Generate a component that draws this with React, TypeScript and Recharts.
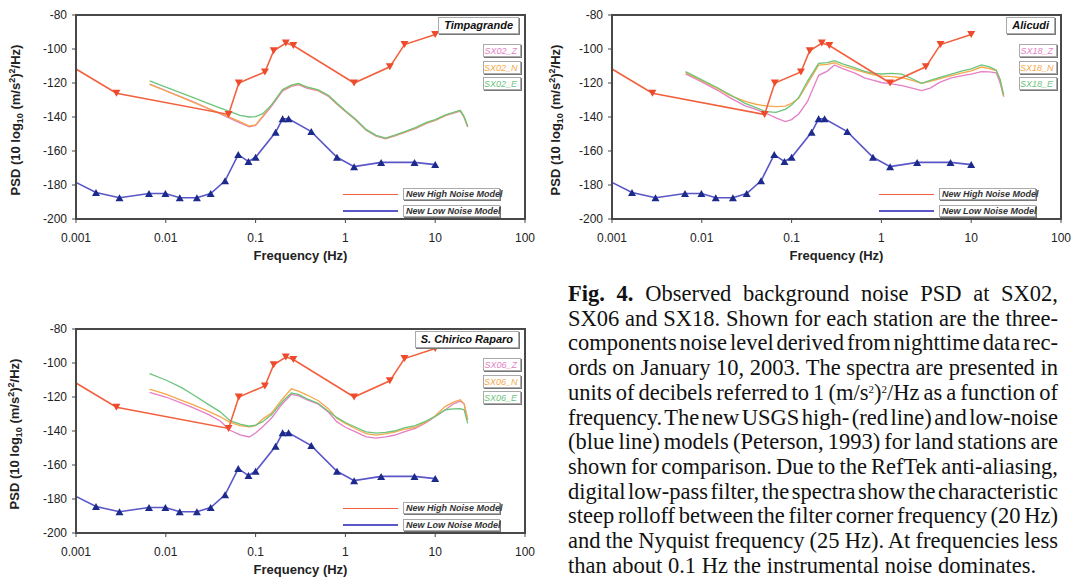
import React from 'react';
import { LineChart, Line, XAxis, YAxis } from 'recharts';

// axis ticks
const freqTicks = [0.001, 0.01, 0.1, 1, 10, 100];
const psdTicks = [-200, -180, -160, -140, -120, -100, -80];

// Peterson (1993) New High Noise Model, frequency (Hz) / PSD (dB)
const nhnmFreq = [0.001, 0.00282, 0.05, 0.065, 0.127, 0.159, 0.217, 0.263, 1.25, 3.125, 4.55, 10];
const nhnmPsd = [-111.8, -126.0, -138.5, -120.0, -113.5, -101.0, -96.5, -98.0, -120.0, -110.5, -97.4, -91.5];

// Peterson (1993) New Low Noise Model
const nlnmFreq = [0.001, 0.00167, 0.00305, 0.0065, 0.0099, 0.0143, 0.0222, 0.0316, 0.0457, 0.0641, 0.0833, 0.1, 0.167, 0.2, 0.233, 0.417, 0.806, 1.25, 2.5, 5.88, 10];
const nlnmPsd = [-178.5, -184.4, -187.5, -185.0, -185.0, -187.5, -187.5, -185.0, -177.5, -162.1, -166.2, -163.7, -149.0, -141.1, -141.1, -148.6, -163.7, -169.2, -166.7, -166.7, -168.0];

// frequencies at which the station spectra were read
const specFreq = [0.0066, 0.01, 0.015, 0.02, 0.03, 0.04, 0.052, 0.067, 0.085, 0.1, 0.12, 0.15, 0.2, 0.25, 0.3, 0.37, 0.5, 0.65, 0.8, 1.0, 1.3, 1.7, 2.2, 2.8, 3.5, 4.5, 6, 8, 10, 13, 16, 19, 21, 23];

// Timpagrande (SX02)
const sx02Z = [-120.6, -124.4, -128.3, -131.0, -135.2, -138.0, -140.8, -143.5, -145.8, -145.0, -140.0, -133.8, -124.6, -122.0, -121.0, -123.0, -124.6, -127.9, -132.4, -136.8, -141.8, -147.8, -151.3, -152.8, -151.2, -149.2, -146.8, -143.8, -142.0, -139.2, -137.7, -136.5, -140.2, -145.9];
const sx02N = [-120.8, -124.7, -128.5, -131.2, -135.0, -137.7, -140.2, -142.7, -145.3, -144.7, -139.5, -133.0, -124.0, -121.5, -120.5, -122.5, -124.3, -127.5, -132.0, -136.5, -141.5, -147.5, -151.0, -152.6, -151.0, -149.0, -146.5, -143.5, -141.8, -139.0, -137.5, -136.3, -140.0, -145.7];
const sx02E = [-118.8, -122.4, -126.0, -128.5, -132.1, -134.6, -136.9, -139.0, -140.0, -139.8, -138.0, -133.0, -123.8, -121.3, -120.3, -122.3, -124.1, -127.3, -131.8, -136.3, -141.3, -147.3, -150.8, -152.4, -150.8, -148.7, -146.2, -143.2, -141.5, -138.8, -137.3, -136.1, -139.8, -145.5];

// Alicudi (SX18)
const sx18Z = [-114.6, -119.3, -124.3, -128.3, -133.3, -135.5, -137.8, -140.5, -142.7, -141.5, -138.2, -131.0, -115.5, -113.0, -109.4, -111.5, -114.0, -117.0, -118.3, -119.7, -120.5, -121.5, -123.0, -124.5, -123.0, -119.5, -117.0, -115.7, -114.8, -113.3, -113.5, -114.0, -120.0, -128.0];
const sx18N = [-113.9, -118.7, -123.4, -127.0, -130.7, -132.5, -133.5, -133.9, -133.6, -132.0, -129.0, -120.5, -109.5, -109.0, -108.1, -110.0, -112.0, -113.8, -115.0, -115.9, -116.3, -116.9, -118.5, -120.2, -119.0, -117.4, -115.6, -114.0, -112.8, -110.6, -111.5, -112.7, -118.0, -128.0];
const sx18E = [-113.3, -118.2, -122.8, -126.5, -131.8, -134.5, -136.9, -137.3, -135.5, -133.0, -128.5, -119.0, -108.5, -108.0, -106.9, -108.8, -111.0, -113.2, -114.2, -114.7, -114.3, -114.8, -117.5, -120.2, -118.5, -116.7, -114.8, -112.9, -111.7, -109.4, -110.5, -112.5, -118.0, -127.0];

// S. Chirico Raparo (SX06)
const sx06Z = [-117.3, -120.0, -123.6, -126.3, -130.4, -134.0, -139.6, -142.3, -143.5, -141.2, -137.5, -132.5, -123.8, -118.5, -119.2, -121.6, -124.2, -129.0, -134.5, -137.8, -140.5, -143.5, -144.2, -143.4, -142.5, -140.5, -138.5, -135.0, -131.5, -127.5, -124.0, -122.5, -124.0, -133.5];
const sx06N = [-115.3, -118.3, -122.0, -124.5, -128.5, -131.5, -134.9, -136.8, -137.5, -136.8, -133.0, -129.5, -121.0, -115.2, -116.5, -118.7, -122.2, -127.0, -132.5, -135.5, -138.7, -141.5, -142.4, -141.7, -140.6, -139.0, -137.8, -134.5, -131.0, -125.5, -123.0, -121.6, -124.0, -133.5];
const sx06E = [-106.3, -110.0, -114.5, -118.5, -124.5, -128.6, -133.9, -136.0, -137.2, -136.5, -134.5, -130.5, -122.5, -117.6, -118.5, -121.0, -123.8, -128.5, -132.0, -135.0, -137.8, -140.5, -141.3, -140.8, -140.0, -138.1, -136.8, -134.0, -131.5, -127.5, -127.0, -126.9, -127.5, -135.5];

const HNM_LINE = '#f2603e';
const HNM_MARK = '#ee4a2c';
const LNM_LINE = '#5a56c8';
const LNM_MARK = '#1c2a8c';
const Z_COL = '#e47fc4';
const N_COL = '#f6a84a';
const E_COL = '#6cc47c';
const AXIS = '#484848';
const SANS = '"Liberation Sans", Arial, sans-serif';

const pts = (fs: number[], vs: number[]) => fs.map((f, i) => ({ f, v: vs[i] }));

const DownTri = (p: any) => {
  const { cx, cy, index } = p;
  if (index === 0 || cx == null) return <g key={`h${index}`} />;
  return <path key={`h${index}`} d={`M${cx - 4},${cy - 3.5}L${cx + 4},${cy - 3.5}L${cx},${cy + 3.5}Z`} fill={HNM_MARK} />;
};

const UpTri = (p: any) => {
  const { cx, cy, index } = p;
  if (index === 0 || cx == null) return <g key={`l${index}`} />;
  return <path key={`l${index}`} d={`M${cx - 4},${cy + 3.5}L${cx + 4},${cy + 3.5}L${cx},${cy - 3.5}Z`} fill={LNM_MARK} />;
};

const boxStyle: React.CSSProperties = {
  position: 'absolute',
  background: '#fff',
  border: '1px solid #aaa',
  boxShadow: '1px 1px 0 #777',
  fontFamily: SANS,
  fontStyle: 'italic',
  whiteSpace: 'nowrap',
  boxSizing: 'border-box',
};

const tickFont = { fontSize: 12, fill: '#222', fontFamily: SANS };

interface PanelProps {
  left: number;
  top: number;
  width: number;
  height: number;
  plotLeft: number;
  plotTop: number;
  plotRight: number;
  plotBottom: number;
  station: string;
  ids: string[];
  z: number[];
  n: number[];
  e: number[];
  yLabelX: number;
}

const Panel: React.FC<PanelProps> = (p) => {
  const xH = 30;
  const margin = { top: p.plotTop - p.top, right: p.left + p.width - p.plotRight, bottom: p.top + p.height - p.plotBottom - xH, left: 0 };
  const cols = [Z_COL, N_COL, E_COL];
  const midX = (p.plotLeft + p.plotRight) / 2;
  const midY = (p.plotTop + p.plotBottom) / 2;
  return (
    <>
      <div style={{ position: 'absolute', left: p.left, top: p.top }}>
        <LineChart width={p.width} height={p.height} margin={margin}>
          <XAxis dataKey="f" type="number" scale="log" domain={[0.001, 100]} ticks={freqTicks} allowDataOverflow
            height={xH} tickSize={4} tickMargin={10} stroke={AXIS} tick={tickFont} />
          <XAxis xAxisId="top" orientation="top" dataKey="f" type="number" scale="log" domain={[0.001, 100]} ticks={freqTicks}
            allowDataOverflow height={0} tick={false} tickSize={4} stroke={AXIS} />
          <YAxis type="number" domain={[-200, -80]} ticks={psdTicks} allowDataOverflow width={p.plotLeft - p.left}
            tickSize={4} tickMargin={5} stroke={AXIS} tick={tickFont} />
          <YAxis yAxisId="right" orientation="right" type="number" domain={[-200, -80]} ticks={psdTicks} allowDataOverflow
            width={0} tick={false} tickSize={4} stroke={AXIS} />
          {/* keeps the mirrored frame axes bound to data */}
          <Line xAxisId="top" yAxisId="right" data={pts(nhnmFreq, nhnmPsd)} dataKey="v" stroke="none" dot={false} isAnimationActive={false} />
          <Line data={pts(specFreq, p.z)} dataKey="v" stroke={Z_COL} strokeWidth={1.3} dot={false} isAnimationActive={false} />
          <Line data={pts(specFreq, p.n)} dataKey="v" stroke={N_COL} strokeWidth={1.3} dot={false} isAnimationActive={false} />
          <Line data={pts(specFreq, p.e)} dataKey="v" stroke={E_COL} strokeWidth={1.3} dot={false} isAnimationActive={false} />
          <Line data={pts(nhnmFreq, nhnmPsd)} dataKey="v" stroke={HNM_LINE} strokeWidth={1.6} dot={DownTri} isAnimationActive={false} />
          <Line data={pts(nlnmFreq, nlnmPsd)} dataKey="v" stroke={LNM_LINE} strokeWidth={1.6} dot={UpTri} isAnimationActive={false} />
        </LineChart>
      </div>

      {/* plot frame */}
      <div style={{ position: 'absolute', left: p.plotLeft - 1, top: p.plotTop - 1, width: p.plotRight - p.plotLeft + 2, height: p.plotBottom - p.plotTop + 2, border: `2px solid ${AXIS}`, boxSizing: 'border-box' }} />

      {/* axis titles */}
      <div style={{ position: 'absolute', left: midX, top: p.plotBottom + 36, transform: 'translate(-50%,-50%)', fontFamily: SANS, fontWeight: 'bold', fontSize: 13, color: '#222', whiteSpace: 'nowrap' }}>
        Frequency (Hz)
      </div>
      <div style={{ position: 'absolute', left: p.yLabelX, top: midY + 3, transform: 'translate(-50%,-50%) rotate(-90deg)', fontFamily: SANS, fontWeight: 'bold', fontSize: 13, color: '#222', whiteSpace: 'nowrap' }}>
        PSD (10 log<sub style={{ fontSize: 9 }}>10</sub> (m/s<sup style={{ fontSize: 9 }}>2</sup>)<sup style={{ fontSize: 9 }}>2</sup>/Hz)
      </div>

      {/* station name */}
      <div style={{ ...boxStyle, right: 1079 - p.plotRight + 6, top: p.plotTop + 2, height: 17, lineHeight: '15px', fontWeight: 'bold', fontSize: 11, padding: '0 5px', color: '#111' }}>
        {p.station}
      </div>
      {/* component labels */}
      {p.ids.map((id, i) => (
        <div key={id} style={{ ...boxStyle, right: 1079 - p.plotRight + 4, top: p.plotTop + 29 + i * 16.5, width: 38, height: 13, fontSize: 9, lineHeight: '12px', textAlign: 'right', paddingRight: 3, color: cols[i] }}>
          {id}
        </div>
      ))}
      {/* model legend */}
      {[{ t: 'New High Noise Model', c: HNM_LINE, dy: -31 }, { t: 'New Low Noise Model', c: LNM_LINE, dy: -14.5 }].map((m) => (
        <React.Fragment key={m.t}>
          <div style={{ position: 'absolute', left: p.plotRight - 182, top: p.plotBottom + m.dy + 5.5, width: 55, height: 1.5, background: m.c }} />
          <div style={{ ...boxStyle, left: p.plotRight - 122, top: p.plotBottom + m.dy, width: 97, height: 12, fontSize: 9, lineHeight: '11px', fontWeight: 'bold', color: '#333', paddingLeft: 2 }}>
            {m.t}
          </div>
        </React.Fragment>
      ))}
    </>
  );
};

const supStyle: React.CSSProperties = { fontSize: 11, verticalAlign: '0.6em', lineHeight: 0 };

const captionLines: React.ReactNode[] = [
  <><b>Fig. 4.</b> Observed background noise PSD at SX02,</>,
  'SX06 and SX18. Shown for each station are the three-',
  'components noise level derived from nighttime data rec-',
  'ords on January 10, 2003. The spectra are presented in',
  <>units of decibels referred to 1 (m/s<span style={supStyle}>2</span>)<span style={supStyle}>2</span>/Hz as a function of</>,
  'frequency. The new USGS high- (red line) and low-noise',
  '(blue line) models (Peterson, 1993) for land stations are',
  'shown for comparison. Due to the RefTek anti-aliasing,',
  'digital low-pass filter, the spectra show the characteristic',
  'steep rolloff between the filter corner frequency (20 Hz)',
  'and the Nyquist frequency (25 Hz). At frequencies less',
  'than about 0.1 Hz the instrumental noise dominates.',
];

export default function App() {
  return (
    <div style={{ position: 'absolute', left: 0, top: 0, width: 1079, height: 579, background: '#fff' }}>
      <Panel left={0} top={0} width={540} height={270} plotLeft={76} plotTop={15} plotRight={525} plotBottom={219}
        station="Timpagrande" ids={['SX02_Z', 'SX02_N', 'SX02_E']} z={sx02Z} n={sx02N} e={sx02E} yLabelX={16} />
      <Panel left={540} top={0} width={539} height={270} plotLeft={612} plotTop={15} plotRight={1061} plotBottom={219}
        station="Alicudi" ids={['SX18_Z', 'SX18_N', 'SX18_E']} z={sx18Z} n={sx18N} e={sx18E} yLabelX={556} />
      <Panel left={0} top={310} width={540} height={269} plotLeft={76} plotTop={329} plotRight={525} plotBottom={533}
        station="S. Chirico Raparo" ids={['SX06_Z', 'SX06_N', 'SX06_E']} z={sx06Z} n={sx06N} e={sx06E} yLabelX={15} />

      <div style={{ position: 'absolute', left: 568, top: 282, width: 490, fontFamily: '"Liberation Serif", "Times New Roman", serif', fontSize: 22.5, lineHeight: '24.7px', color: '#111' }}>
        {captionLines.map((l, i) => {
          const last = i === captionLines.length - 1;
          return (
            <div key={i} style={{ textAlign: 'justify', textAlignLast: last ? 'left' : 'justify', wordSpacing: last ? 0 : -3.5, whiteSpace: 'nowrap' }}>
              {l}
            </div>
          );
        })}
      </div>
    </div>
  );
}
